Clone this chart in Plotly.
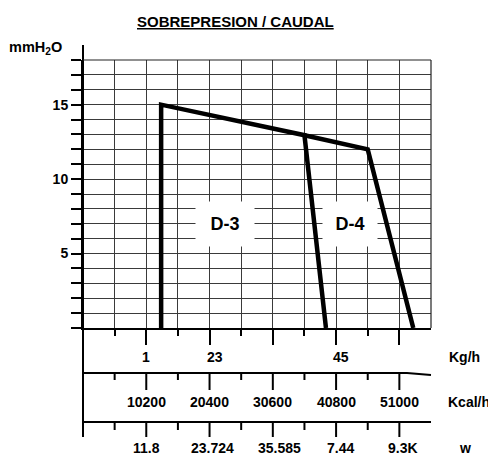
import plotly.graph_objects as go

# ---------------- data ----------------
d3_x = [2.47, 2.47, 7.0, 7.68]
d3_y = [0, 15, 12.95, 0]
d4_x = [7.0, 9.0, 10.44]
d4_y = [12.95, 12.0, 0]

y_tick_vals = list(range(0, 19))
y_tick_text = ["5" if v == 5 else "10" if v == 10 else "15" if v == 15 else "" for v in y_tick_vals]

kg_pos = [2, 4.17, 8.15]
kg_text = ["1", "23", "45"]
kcal_pos = [2, 4, 6, 8, 10]
kcal_text = ["10200", "20400", "30600", "40800", "51000"]
w_pos = [2, 4.1, 6.2, 8.15, 10.1]
w_text = ["11.8", "23.724", "35.585", "7.44", "9.3K"]
scale_ticks = list(range(1, 11))

# ---------------- layout geometry (screen pixels) ----------------
W, H = 496, 457
OFF = 8  # default page body margin
L, R, T, B = 83, 431, 60, 328
PW, PH = R - L, B - T


def px(x):
    return (x - L) / PW


def py(y):
    return (B - y) / PH


FONT = "Liberation Sans, Arial, sans-serif"
fig = go.Figure()

fig.add_trace(go.Scatter(x=d3_x, y=d3_y, mode="lines",
                         line=dict(color="black", width=4.5), showlegend=False,
                         hoverinfo="skip"))
fig.add_trace(go.Scatter(x=d4_x, y=d4_y, mode="lines",
                         line=dict(color="black", width=4.5), showlegend=False,
                         hoverinfo="skip"))

shapes = []
shapes.append(dict(type="line", xref="paper", yref="paper", x0=0, x1=0,
                   y0=py(45), y1=py(437), line=dict(color="black", width=2)))
shapes.append(dict(type="line", xref="paper", yref="paper", x0=0, x1=1,
                   y0=1, y1=1, line=dict(color="#222", width=1.2)))
shapes.append(dict(type="line", xref="paper", yref="paper", x0=1, x1=1,
                   y0=0, y1=1, line=dict(color="#222", width=1.2)))
shapes.append(dict(type="path", xref="paper", yref="paper",
                   path=f"M {px(83)},{py(373)} L {px(407)},{py(373)} L {px(431)},{py(375)}",
                   line=dict(color="black", width=2)))
shapes.append(dict(type="line", xref="paper", yref="paper", x0=px(83), x1=px(431),
                   y0=py(422), y1=py(422), line=dict(color="black", width=2)))
for v in scale_ticks:
    long = (v % 2 == 0)
    shapes.append(dict(type="line", xref="x", yref="paper", x0=v, x1=v,
                       y0=py(373), y1=py(390 if long else 380),
                       line=dict(color="black", width=2)))
    shapes.append(dict(type="line", xref="x", yref="paper", x0=v, x1=v,
                       y0=py(422), y1=py(437 if long else 430),
                       line=dict(color="black", width=2)))

ann = []
bold = dict(family=FONT, size=14, color="black", weight="bold")
ann.append(dict(text="<u>SOBREPRESION / CAUDAL</u>", xref="paper", yref="paper",
                x=px(235), y=py(21), showarrow=False, xanchor="center", yanchor="middle",
                font=dict(family=FONT, size=15, color="black", weight="bold")))
ann.append(dict(text="mmH<sub>2</sub>O", xref="paper", yref="paper",
                x=px(7), y=py(48), showarrow=False, xanchor="left", yanchor="middle",
                font=dict(family=FONT, size=14.5, color="black", weight="bold")))
for p, t in zip(kg_pos, kg_text):
    ann.append(dict(text=t, xref="x", yref="paper", x=p, y=py(357), showarrow=False,
                    xanchor="center", yanchor="middle", font=bold))
for p, t in zip(kcal_pos, kcal_text):
    ann.append(dict(text=t, xref="x", yref="paper", x=p, y=py(402), showarrow=False,
                    xanchor="center", yanchor="middle", font=bold))
for p, t in zip(w_pos, w_text):
    ann.append(dict(text=t, xref="x", yref="paper", x=p, y=py(447.5), showarrow=False,
                    xanchor="center", yanchor="middle", font=bold))
ann.append(dict(text="Kg/h", xref="paper", yref="paper", x=px(447), y=py(357),
                showarrow=False, xanchor="left", yanchor="middle", font=bold))
ann.append(dict(text="Kcal/h", xref="paper", yref="paper", x=px(446), y=py(402),
                showarrow=False, xanchor="left", yanchor="middle", font=bold))
ann.append(dict(text="w", xref="paper", yref="paper", x=px(465), y=py(447.5),
                showarrow=False, xanchor="center", yanchor="middle", font=bold))
ann.append(dict(text="D-3", xref="x", yref="y", x=4.49, y=6.98, showarrow=False,
                width=56, height=42, bgcolor="white",
                font=dict(family=FONT, size=18, color="black", weight="bold")))
ann.append(dict(text="D-4", xref="x", yref="y", x=8.45, y=6.98, showarrow=False,
                width=52, height=42, bgcolor="white",
                font=dict(family=FONT, size=18, color="black", weight="bold")))

GRID = "#3a3a3a"
fig.update_layout(
    width=W - OFF, height=H - OFF,
    margin=dict(l=L - OFF, r=W - R, t=T - OFF, b=H - B, pad=0),
    plot_bgcolor="white", paper_bgcolor="white",
    shapes=shapes, annotations=ann,
    xaxis=dict(range=[0, 11], tick0=0, dtick=2, showgrid=True, gridcolor=GRID, gridwidth=1,
               showticklabels=False, ticks="outside", ticklen=15, tickwidth=2,
               tickcolor="black", showline=True, linecolor="black", linewidth=2,
               zeroline=False, fixedrange=True,
               minor=dict(tickvals=[1, 3, 5, 7, 9], ticks="outside", ticklen=6,
                          tickwidth=2, tickcolor="black", showgrid=True,
                          gridcolor=GRID, gridwidth=1)),
    yaxis=dict(range=[0, 18], tickvals=y_tick_vals, ticktext=y_tick_text,
               showgrid=True, gridcolor=GRID, gridwidth=1,
               ticks="outside", ticklen=10, tickwidth=2, tickcolor="black",
               showline=True, linecolor="black", linewidth=2, zeroline=False,
               tickfont=dict(family=FONT, size=14, color="black", weight="bold"),
               fixedrange=True),
)

fig.write_html("out.html")
